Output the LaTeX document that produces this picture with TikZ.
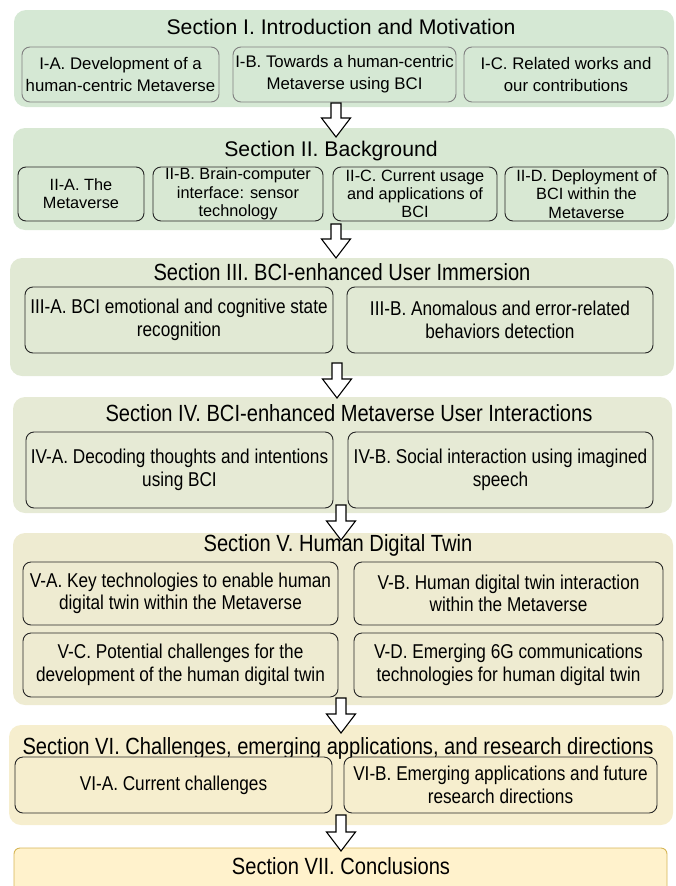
\documentclass[tikz,border=0pt]{standalone}
\usepackage{fontspec}
\setmainfont{Liberation Sans}
\newfontfamily\narrowsans[FakeStretch=0.86]{Liberation Sans}
\usetikzlibrary{calc}

\definecolor{secI}{HTML}{D5E8D4}
\definecolor{secII}{HTML}{D8E8D3}
\definecolor{secIII}{HTML}{E1E9D4}
\definecolor{secIV}{HTML}{E6EAD5}
\definecolor{secV}{HTML}{EEEBD1}
\definecolor{secVI}{HTML}{F6EECE}
\definecolor{secVII}{HTML}{FFF2CC}
\definecolor{secVIIline}{HTML}{D6B656}
\definecolor{lightrule}{HTML}{808080}
\definecolor{darkrule}{HTML}{262626}

\tikzset{
  panel/.style={rounded corners=12pt, inner sep=0pt, draw=none},
  subbox/.style={rounded corners=8pt, inner sep=0pt, align=center, line width=0.9pt},
  subI/.style={subbox, draw=lightrule, fill=secI, font=\fontsize{16.8}{21.7}\selectfont},
  subII/.style={subbox, draw=darkrule, fill=secII, font=\fontsize{16.3}{18.3}\selectfont},
  subN/.style={subbox, draw=darkrule, font=\narrowsans\fontsize{20}{22.5}\selectfont},
  titleW/.style={inner sep=0pt, font=\fontsize{21.2}{25}\selectfont},
  titleN/.style={inner sep=0pt, font=\narrowsans\fontsize{23.4}{26}\selectfont},
  blockarrow/.style={draw=black, fill=white, line width=1.1pt, line join=miter,
    to path={let \p1=(\tikztostart), \p2=(\tikztotarget) in
      (\x1-5pt,\y1) -- (\x1+5pt,\y1) -- (\x1+5pt,\y2+19pt) -- (\x1+14.5pt,\y2+19pt)
      -- (\x1,\y2) -- (\x1-14.5pt,\y2+19pt) -- (\x1-5pt,\y2+19pt) -- cycle}}
}

\begin{document}
\begin{tikzpicture}[x=1pt,y=-1pt]
\useasboundingbox (0,0) rectangle (676,886);
\clip (0,0) rectangle (676,886);

% section panels
\node[panel, fill=secI,   minimum width=660pt, minimum height=97pt]  (p1) at (344,58.5) {};
\node[panel, fill=secII,  minimum width=662pt, minimum height=102pt] (p2) at (344,179) {};
\node[panel, fill=secIII, minimum width=664pt, minimum height=118pt] (p3) at (342,317) {};
\node[panel, fill=secIV,  minimum width=659pt, minimum height=116pt] (p4) at (342.5,455) {};
\node[panel, fill=secV,   minimum width=660pt, minimum height=172pt] (p5) at (343,619) {};
\node[panel, fill=secVI,  minimum width=664pt, minimum height=100pt] (p6) at (341,775) {};
\node[panel, fill=secVII, draw=secVIIline, line width=0.9pt, rounded corners=6pt,
      minimum width=653pt, minimum height=70pt] (p7) at (340.5,883) {};

% section titles
\node[titleW] (t1) at (341,27)  {Section I. Introduction and Motivation};
\node[titleW] (t2) at (331,151) {Section II. Background};
\node[titleN] (t3) at (342,272) {Section III. BCI-enhanced User Immersion};
\node[titleN] (t4) at (349,413) {Section IV. BCI-enhanced Metaverse User Interactions};
\node[titleN] (t5) at (338,545) {Section V. Human Digital Twin};
\node[titleN] (t6) at (338,748) {Section VI. Challenges, emerging applications, and research directions};
\node[titleN] (t7) at (341,866) {Section VII. Conclusions};

% Section I subsections
\node[subI, minimum width=197pt, minimum height=55pt] (s1a) at (120.5,74.5) {I-A. Development of a\\human-centric Metaverse};
\node[subI, minimum width=223pt, minimum height=55pt] (s1b) at (344.5,74.5) {I-B. Towards a human-centric\\Metaverse using BCI};
\node[subI, minimum width=204pt, minimum height=55pt] (s1c) at (566,74.5) {I-C. Related works and\\our contributions};

% Section II subsections
\node[subII, minimum width=126pt, minimum height=54pt] (s2a) at (81,194) {II-A. The\\Metaverse};
\node[subII, minimum width=170pt, minimum height=54pt] (s2b) at (238,194) {II-B. Brain-computer\\interface: sensor\\technology};
\node[subII, minimum width=164pt, minimum height=54pt] (s2c) at (415,194) {II-C. Current usage\\and applications of\\BCI};
\node[subII, minimum width=163pt, minimum height=54pt] (s2d) at (586.5,194) {II-D. Deployment of\\BCI within the\\Metaverse};

% Section III subsections
\node[subN, fill=secIII, minimum width=308pt, minimum height=66pt] (s3a) at (179,320) {III-A. BCI emotional and cognitive state\\recognition};
\node[subN, fill=secIII, minimum width=306pt, minimum height=66pt] (s3b) at (500,320) {III-B. Anomalous and error-related\\behaviors detection};

% Section IV subsections
\node[subN, fill=secIV, minimum width=307pt, minimum height=76pt] (s4a) at (179.5,470) {IV-A. Decoding thoughts and intentions\\using BCI};
\node[subN, fill=secIV, minimum width=305pt, minimum height=76pt] (s4b) at (500.5,470) {IV-B. Social interaction using imagined\\speech};

% Section V subsections
\node[subN, fill=secV, minimum width=315pt, minimum height=63pt] (s5a) at (180.5,593.5) {V-A. Key technologies to enable human\\digital twin within the Metaverse};
\node[subN, fill=secV, minimum width=309pt, minimum height=63pt] (s5b) at (508.5,593.5) {V-B. Human digital twin interaction\\within the Metaverse};
\node[subN, fill=secV, minimum width=315pt, minimum height=64pt] (s5c) at (180.5,665) {V-C. Potential challenges for the\\development of the human digital twin};
\node[subN, fill=secV, minimum width=309pt, minimum height=64pt] (s5d) at (508.5,665) {V-D. Emerging 6G communications\\technologies for human digital twin};

% Section VI subsections
\node[subN, fill=secVI, minimum width=317pt, minimum height=56pt] (s6a) at (173.5,785) {VI-A. Current challenges};
\node[subN, fill=secVI, minimum width=313pt, minimum height=56pt] (s6b) at (500.5,785) {VI-B. Emerging applications and future\\research directions};

% flow arrows between sections
\coordinate (a1s) at (336,103); \coordinate (a1e) at (336,137);
\coordinate (a2s) at (336,224); \coordinate (a2e) at (336,258);
\coordinate (a3s) at (337,363); \coordinate (a3e) at (337,398);
\coordinate (a4s) at (341,505); \coordinate (a4e) at (341,540);
\coordinate (a5s) at (341,698); \coordinate (a5e) at (341,733);
\coordinate (a6s) at (341,815); \coordinate (a6e) at (341,851);
\draw[blockarrow] (a1s) to (a1e);
\draw[blockarrow] (a2s) to (a2e);
\draw[blockarrow] (a3s) to (a3e);
\draw[blockarrow] (a4s) to (a4e);
\draw[blockarrow] (a5s) to (a5e);
\draw[blockarrow] (a6s) to (a6e);
\end{tikzpicture}
\end{document}
